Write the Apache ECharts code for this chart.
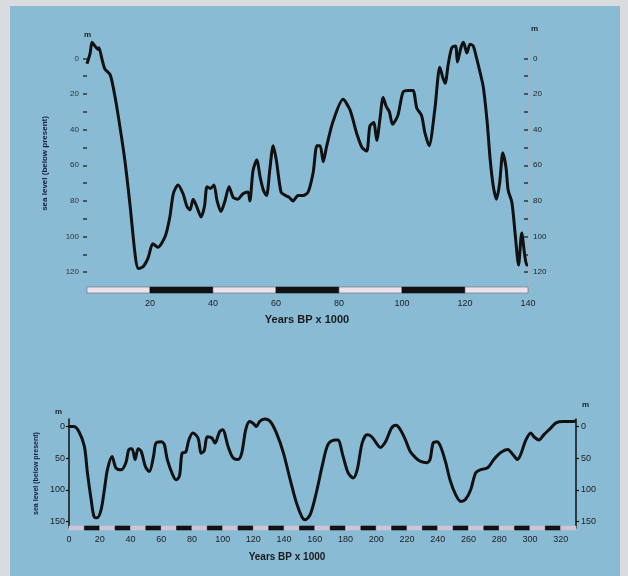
<!DOCTYPE html>
<html>
<head>
<meta charset="utf-8">
<script src="https://cdn.jsdelivr.net/npm/echarts@6/dist/echarts.min.js"></script>
<style>
html,body{margin:0;padding:0;background:#d9dbde;}
#c{width:628px;height:576px;}
</style>
</head>
<body>
<div id="c"></div>
<script>
// ---- Top chart: last 140 kyr ----
const topYears = [0,1,1.6,2.5,3.5,3.8,4.7,5.7,7.3,8.3,9.8,12,13.7,15.2,16.2,17.8,19.4,20.9,22.5,24.8,26.3,27.4,28.9,30.5,31.7,32.7,33.7,34.8,36.2,37.3,38.1,39.2,40.3,41.3,42.5,43.8,45.1,46.4,47.9,49.5,51.1,51.7,52.7,53.9,55,56,57,58,59.1,60.1,61.6,63,64.2,65.4,67,68.6,70.2,71.8,73,74,75,76,78,81.3,83.5,85.6,87.3,88.8,89.8,91,92,93,94,95,96,97,98.7,100.3,102,103.5,104.7,106.2,107.3,108.6,110.4,112,113,113.7,114.7,115.8,117,117.6,118.7,119.5,120.6,121.6,122.6,123.7,124.8,125.8,127,128,129,130,131,132,133,133.7,134.9,136,137,138,139,139.6,140];
const topLevel = [3,-3,-9,-7,-5,-6,0,6,9,16,31,57,83,109,118,117,112,104,106,100,89,76,71,76,83,85,79,83,89,83,72,73,71,80,86,80,72,78,79,76,75,80,63,57,67,74,77,63,49,57,75,77,78,80,77,77,75,64,49,49,58,50,36,23,29,42,50,52,38,36,46,34,22,27,30,37,32,19,18,18,28,32,42,49,29,5,11,14,3,-6,-7,2,-6,-9,-3,-8,-7,0,8,16,35,57,72,79,70,53,61,74,81,100,116,98,111,116,116];
const topXTicks = [0,20,40,60,80,100,120,140];
const topYLabels = [0,20,40,60,80,100,120];
const topYTicks = [0,10,20,30,40,50,60,70,80,90,100,110,120];
const topBarStarts = [0,20,40,60,80,100,120];
const topBarEnds = [20,40,60,80,100,120,140];

// ---- Bottom chart: last 330 kyr ----
const botYears = [0,3,6.5,10,12,14.4,16.3,18.3,20.9,23,25,28,30.5,34,37,39,41,43,45,47,49.7,52.3,55,56.6,60,62,64,67.5,69.7,71.9,73.6,76,78,80.6,84,86,88,90,93,95,98,100,103.5,106.7,110,112.5,115,117.6,120,122,124,127.5,131,135,139.5,144,148,151.5,153.6,157,161,165,168.6,173,175,178.4,181.7,185,187.6,190.8,194,197,200.6,202.6,206,210,213,215.7,219,222,225.5,228.8,233,235,237,239.5,241.8,245,248,251.6,255,258,261.4,264.7,268,272.5,276.5,281,285.6,288.9,292,294,297.4,300.6,302.6,305.9,309,313.7,317,321.6,326.8,330];
const botLevel = [0,0,8,31,73,115,142,144,131,100,68,47,65,68,57,36,35,52,35,39,63,71,47,26,24,28,52,76,84,78,42,40,21,10,18,42,38,16,18,26,8,5,31,49,52,41,5,-8,-5,0,-8,-12,-8,10,41,84,120,142,147,139,104,60,28,21,21,47,73,81,68,26,13,16,28,33,24,2,-2,5,21,39,49,55,57,52,26,24,31,55,84,107,118,115,100,73,68,65,52,41,36,44,52,44,21,10,16,21,13,2,-6,-8,-8,-9];
const botYLabels = [0,50,100,150];
const botBarStarts = [0,10,20,30,40,50,60,70,80,90,100,110,120,130,140,150,160,170,180,190,200,210,220,230,240,250,260,270,280,290,300,310,320];
const botBarEnds = [10,20,30,40,50,60,70,80,90,100,110,120,130,140,150,160,170,180,190,200,210,220,230,240,250,260,270,280,290,300,310,320,330];

const TOP_MIN = -12, TOP_MAX = 130, BOT_MIN = -12, BOT_MAX = 160;
const FONT = 'Liberation Sans, Arial, sans-serif';

const zip = (a, b) => a.map((v, i) => [v, b[i]]);

function barItem(barH, light, dark, outline) {
  return function (params, api) {
    const p0 = api.coord([api.value(0), api.value(2)]);
    const p1 = api.coord([api.value(1), api.value(2)]);
    const isDark = params.dataIndex % 2 === 1;
    return {
      type: 'rect',
      shape: { x: p0[0], y: p0[1] - barH / 2, width: p1[0] - p0[0], height: barH },
      style: { fill: isDark ? dark : light, stroke: isDark ? dark : outline, lineWidth: 0.6 }
    };
  };
}

const chart = echarts.init(document.getElementById('c'), null, { renderer: 'canvas' });
chart.setOption({
  backgroundColor: '#d9dbde',
  animation: false,
  textStyle: { fontFamily: FONT },
  graphic: [
    { type: 'rect', z: -10, shape: { x: 10, y: 6, width: 610, height: 570 }, style: { fill: '#89bbd4' } },
    { type: 'text', left: 84, top: 31, style: { text: 'm', font: 'bold 8px ' + FONT, fill: '#222' } },
    { type: 'text', left: 531, top: 25, style: { text: 'm', font: 'bold 8px ' + FONT, fill: '#222' } },
    { type: 'text', left: 55, top: 408, style: { text: 'm', font: 'bold 8px ' + FONT, fill: '#222' } },
    { type: 'text', left: 582, top: 401, style: { text: 'm', font: 'bold 8px ' + FONT, fill: '#222' } },
    { type: 'text', x: 307, y: 320, style: { text: 'Years BP x 1000', font: 'bold 11px ' + FONT, fill: '#1a1a1a', align: 'center', verticalAlign: 'middle' } },
    { type: 'text', x: 287, y: 557, style: { text: 'Years BP x 1000', font: 'bold 10px ' + FONT, fill: '#1a1a1a', align: 'center', verticalAlign: 'middle' } }
  ],
  grid: [
    { left: 87, top: 37, width: 441, height: 253 },
    { left: 69, top: 419, width: 507, height: 109 }
  ],
  xAxis: [
    {
      gridIndex: 0, type: 'value', min: 0, max: 140, interval: 20,
      axisLine: { show: false }, axisTick: { show: false }, splitLine: { show: false },
      axisLabel: { customValues: topXTicks.slice(1), margin: 9, fontSize: 9, color: '#222', fontFamily: FONT }
    },
    {
      gridIndex: 1, type: 'value', min: 0, max: 330, interval: 20,
      axisLine: { show: false }, axisTick: { show: false }, splitLine: { show: false },
      axisLabel: { margin: 7, fontSize: 9, color: '#222', fontFamily: FONT, showMaxLabel: false }
    }
  ],
  yAxis: [
    {
      gridIndex: 0, type: 'value', inverse: true, min: TOP_MIN, max: TOP_MAX, position: 'left',
      axisLine: { show: false }, splitLine: { show: false },
      axisTick: { show: true, customValues: topYTicks, length: 4, lineStyle: { color: '#333', width: 1.5 } },
      axisLabel: { customValues: topYLabels, fontSize: 8, color: '#333', margin: 8, fontFamily: FONT },
      name: 'sea level (below present)', nameLocation: 'middle', nameGap: 38, nameRotate: 90,
      nameTextStyle: { fontSize: 8, fontWeight: 'bold', color: '#1a1a40', fontFamily: FONT }
    },
    {
      gridIndex: 0, type: 'value', inverse: true, min: TOP_MIN, max: TOP_MAX, position: 'right',
      axisLine: { show: true, lineStyle: { color: '#9fb6c4', width: 1 } }, splitLine: { show: false },
      axisTick: { show: true, inside: true, customValues: topYTicks, length: 4, lineStyle: { color: '#333', width: 1.5 } },
      axisLabel: { customValues: topYLabels, fontSize: 8, color: '#222', margin: 5, fontFamily: FONT }
    },
    {
      gridIndex: 1, type: 'value', inverse: true, min: BOT_MIN, max: BOT_MAX, position: 'left',
      axisLine: { show: true, lineStyle: { color: '#111', width: 1.5 } }, splitLine: { show: false },
      axisTick: { show: true, customValues: botYLabels, length: 3, lineStyle: { color: '#111', width: 1.2 } },
      axisLabel: { customValues: botYLabels, fontSize: 9, color: '#222', margin: 4, fontFamily: FONT },
      name: 'sea level (below present)', nameLocation: 'middle', nameGap: 27, nameRotate: 90,
      nameTextStyle: { fontSize: 7, fontWeight: 'bold', color: '#1a1a40', fontFamily: FONT }
    },
    {
      gridIndex: 1, type: 'value', inverse: true, min: BOT_MIN, max: BOT_MAX, position: 'right',
      axisLine: { show: true, lineStyle: { color: '#111', width: 1.5 } }, splitLine: { show: false },
      axisTick: { show: true, customValues: botYLabels, length: 3, lineStyle: { color: '#111', width: 1.2 } },
      axisLabel: { customValues: botYLabels, fontSize: 9, color: '#222', margin: 5, fontFamily: FONT }
    }
  ],
  series: [
    {
      type: 'custom', xAxisIndex: 0, yAxisIndex: 0, clip: false, z: 1,
      renderItem: barItem(6, '#ece2ea', '#111', '#6a6a7a'),
      encode: { x: [0, 1], y: 2 },
      data: topBarStarts.map((s, i) => [s, topBarEnds[i], TOP_MAX])
    },
    {
      type: 'custom', xAxisIndex: 1, yAxisIndex: 2, clip: false, z: 1,
      renderItem: barItem(4, '#cfc3d6', '#111', '#cfc3d6'),
      encode: { x: [0, 1], y: 2 },
      data: botBarStarts.map((s, i) => [s, botBarEnds[i], BOT_MAX])
    },
    {
      type: 'line', xAxisIndex: 0, yAxisIndex: 0, data: zip(topYears, topLevel),
      smooth: 0.25, showSymbol: false, clip: false,
      lineStyle: { color: '#111', width: 3 }
    },
    {
      type: 'line', xAxisIndex: 1, yAxisIndex: 2, data: zip(botYears, botLevel),
      smooth: 0.3, showSymbol: false, clip: false,
      lineStyle: { color: '#111', width: 3 }
    }
  ]
});
</script>
</body>
</html>
